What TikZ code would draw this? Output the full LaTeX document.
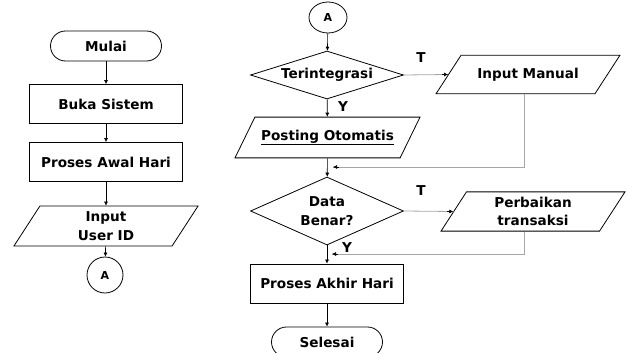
\documentclass[tikz,border=0pt]{standalone}
\usepackage{fontspec}
\setmainfont{DejaVu Sans}
\usetikzlibrary{shapes.geometric,arrows.meta}

\begin{document}
\begin{tikzpicture}
  [x=1pt,y=-1pt,line width=.8pt,
   every node/.style={font=\bfseries\fontsize{13.6}{18.5}\selectfont,align=center,inner sep=0pt},
   term/.style={draw,rectangle,rounded corners=15pt,minimum width=111pt,minimum height=30pt},
   proc/.style={draw,rectangle,minimum width=153pt,minimum height=39pt},
   io/.style={draw,trapezium,trapezium stretches body,trapezium left angle=57,
     trapezium right angle=123,minimum width=184pt,inner ysep=12.75pt},
   dec/.style={draw,diamond,minimum width=153pt},
   conn/.style={draw,ellipse,font=\bfseries\fontsize{11}{13}\selectfont},
   flow/.style={line width=.6pt,-{Latex[length=4pt,width=4pt]}},
   back/.style={line width=.8pt,gray!70}]
  \clip (0,0) rectangle (629,353);

  % kolom kiri
  \node[term] (mulai) at (106,46) {Mulai};
  \node[proc] (buka) at (106,104) {Buka Sistem};
  \node[proc] (awal) at (106,162) {Proses Awal Hari};
  \node[io,inner ysep=5.6pt] (userid) at (106,226) {Input\\User ID};
  \node[conn,minimum width=36pt,minimum height=36pt] (a1) at (105,275) {A};

  \draw[flow] (mulai) -- (buka);
  \draw[flow] (buka) -- (awal);
  \draw[flow] (awal) -- (userid);
  \draw[flow] (userid) -- (a1);

  % kolom kanan
  \node[conn,minimum width=38pt,minimum height=31pt] (a2) at (328,17.5) {A};
  \node[dec,minimum height=48pt,shape aspect=3.2] (integrasi) at (327,75) {Terintegrasi};
  \node[io] (manual) at (528,74.5) {Input Manual};
  \node[io,trapezium left angle=64,trapezium right angle=116,minimum width=185pt]
    (posting) at (327.5,137.5) {\underline{Posting Otomatis}};
  \node[dec,minimum height=68pt,shape aspect=2.25] (benar) at (327,211) {Data\\Benar?};
  \node[io,inner ysep=5.1pt] (perbaikan) at (533,211.5) {Perbaikan\\transaksi};
  \node[proc] (akhir) at (327,283.5) {Proses Akhir Hari};
  \node[term] (selesai) at (327,342) {Selesai};

  \node (t1) at (421,58) {T};
  \node (y1) at (343,107) {Y};
  \node (t2) at (421,191) {T};
  \node (y2) at (347,248) {Y};

  \coordinate (m1) at (524,167);
  \coordinate (m1end) at (333,167);
  \coordinate (p1) at (524,254);
  \coordinate (p1end) at (332,254);

  \draw[flow] (a2) -- (integrasi);
  \draw[flow] (integrasi) -- (posting);
  \draw[flow] (posting) -- (benar);
  \draw[flow] (benar) -- (akhir);
  \draw[flow] (akhir) -- (selesai);

  \draw[back] (integrasi.east) -- (manual.west);
  \draw[flow] ([xshift=-6pt]manual.west) -- (manual.west);
  \draw[back] (benar.east) -- (perbaikan.west);
  \draw[flow] ([xshift=-6pt]perbaikan.west) -- (perbaikan.west);

  \draw[back] (manual.south -| m1) -- (m1) -- (m1end);
  \draw[flow] ([xshift=6pt]m1end) -- (m1end);
  \draw[back] (perbaikan.south -| p1) -- (p1) -- (p1end);
  \draw[flow] ([xshift=6pt]p1end) -- (p1end);
\end{tikzpicture}
\end{document}
